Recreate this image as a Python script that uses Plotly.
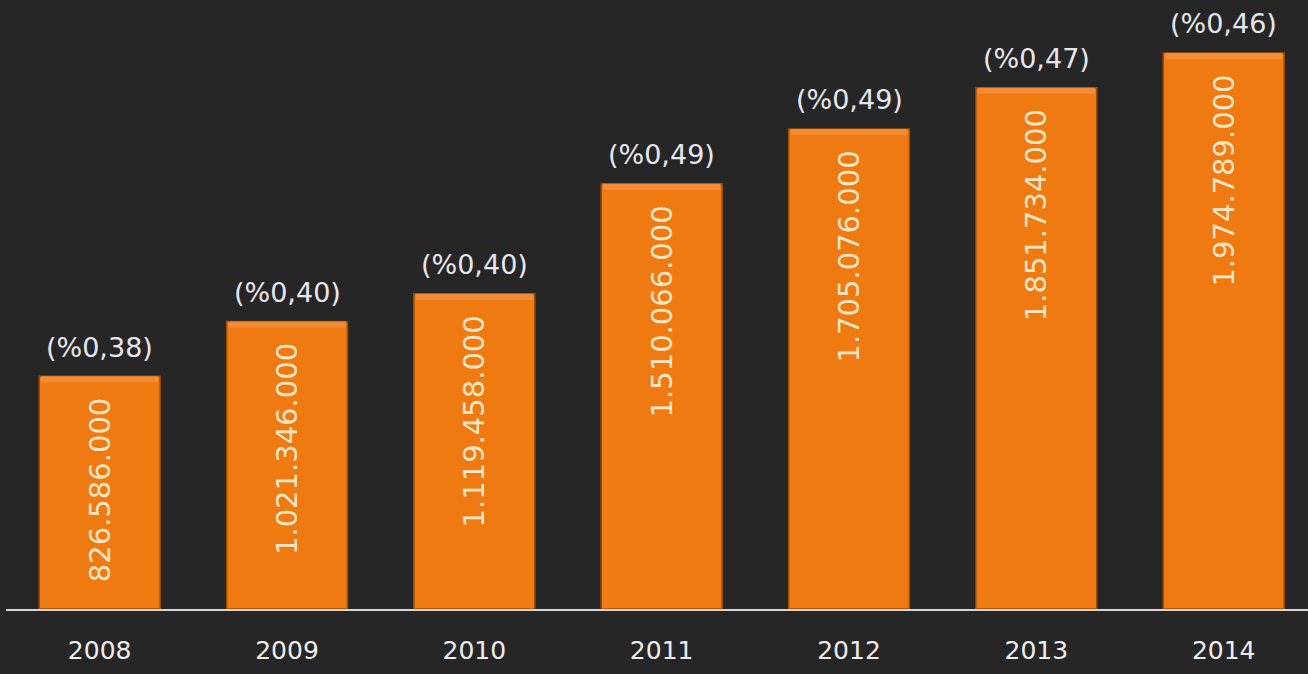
import plotly.graph_objects as go

years = ["2008", "2009", "2010", "2011", "2012", "2013", "2014"]
values = [826586000, 1021346000, 1119458000, 1510066000, 1705076000, 1851734000, 1974789000]
pct_labels = ["(%0,38)", "(%0,40)", "(%0,40)", "(%0,49)", "(%0,49)", "(%0,47)", "(%0,46)"]

BG = "#262626"
ORANGE = "#F07A12"
Y_MAX = 2163000000
BEVEL = 22000000  # thickness of the lighter top band, in axis units (~6 px)

fig = go.Figure()
fig.add_trace(go.Bar(
    x=years, y=values,
    width=0.645,
    marker=dict(color=ORANGE, line=dict(color="#9E4E08", width=1.5)),
    texttemplate="%{y:,.0f}\u00a0\u00a0",
    textposition="inside",
    insidetextanchor="end",
    textangle=-90,
    textfont=dict(family="DejaVu Sans", size=29, color="#F8E6C6"),
    hoverinfo="skip",
))
# lighter bevel band at the top of each bar
fig.add_trace(go.Bar(
    x=years, y=[BEVEL] * len(values), base=[v - BEVEL for v in values],
    width=0.645 * 0.97,
    marker=dict(color="#F38C34", line=dict(width=0)),
    hoverinfo="skip",
))

for i, (v, lab) in enumerate(zip(values, pct_labels)):
    fig.add_annotation(x=i, y=v, text=lab, showarrow=False, yanchor="middle",
                       yshift=29, font=dict(family="DejaVu Sans", size=27, color="#E6E8EE"))

fig.update_layout(
    width=1308, height=674,
    margin=dict(l=6, r=0, t=0, b=65),
    paper_bgcolor=BG, plot_bgcolor=BG,
    separators=",.",
    showlegend=False,
    barmode="overlay",
)
fig.update_xaxes(
    type="category", range=[-0.5, 6.45],
    showline=True, linecolor="#D6D6D6", linewidth=2,
    showgrid=False, zeroline=False,
    ticks="outside", ticklen=18, tickcolor=BG,
    tickfont=dict(family="DejaVu Sans", size=25, color="#EEEEEE"),
)
fig.update_yaxes(range=[0, Y_MAX], visible=False, showgrid=False, zeroline=False)

fig.write_html("out.html", config={"displayModeBar": False},
               post_script="document.body.style.margin='0';document.body.style.background='#262626';")
